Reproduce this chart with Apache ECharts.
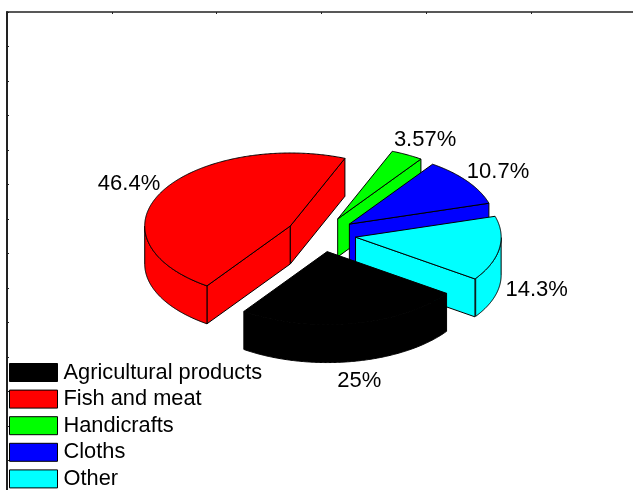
<!DOCTYPE html>
<html>
<head>
<meta charset="utf-8">
<style>html,body{margin:0;padding:0;background:#fff}#main{width:633px;height:490px}</style>
<script src="https://cdn.jsdelivr.net/npm/echarts@6/dist/echarts.min.js"></script>
</head>
<body>
<div id="main"></div>
<script>
const categories = ['Agricultural products', 'Fish and meat', 'Handicrafts', 'Cloths', 'Other'];
const shares = [25, 46.4, 3.57, 10.7, 14.3];
const colors = ['#000000', '#ff0000', '#00ff00', '#0000ff', '#00ffff'];
const paintOrder = [5, 1, 2, 3, 4];

// Pie geometry in axis units (x right, y down)
const pieCenter = [2.998, 6.445];
const radiusX = 1.39;
const radiusY = 2.116;
const thickness = 1.1;
const explode = 0.24;
const labelRadius = 1.5;
const labelDropFar = 0.04;
const labelDropNear = 1.12;
const firstSliceStart = -34.9; // degrees, slices run clockwise

const total = shares.reduce((a, b) => a + b, 0);
const rad = d => d * Math.PI / 180;

function sliceRange(index) {
  let start = firstSliceStart;
  for (let i = 0; i < index; i++) start -= shares[i] / total * 360;
  return [start, start - shares[index] / total * 360];
}

function sliceElements(index, api) {
  const [start, end] = sliceRange(index);
  const mid = (start + end) / 2;
  const ox = api.value(0) + explode * radiusX * Math.cos(rad(mid));
  const oy = api.value(1) - explode * radiusY * Math.sin(rad(mid));
  const at = (deg, r, z) => api.coord([
    ox + r * radiusX * Math.cos(rad(deg)),
    oy - r * radiusY * Math.sin(rad(deg)) + z
  ]);
  const style = { fill: colors[index], stroke: '#000', lineWidth: 1, lineJoin: 'round' };
  const poly = (points, z2) => ({
    type: 'polygon', z2, shape: { points }, style
  });
  const children = [];

  // Radial walls, drawn only when their outward side faces the viewer
  [[start, start + 90], [end, end - 90]].forEach(([edge, normal]) => {
    if (Math.sin(rad(normal)) < 0) {
      children.push(poly([at(edge, 0, 0), at(edge, 1, 0), at(edge, 1, thickness), at(edge, 0, thickness)], 1));
    }
  });

  // Rim: the near-side stretch of the arc
  const upperPts = [];
  const lowerPts = [];
  for (let d = start; d >= end - 1e-6; d -= 0.5) {
    if (Math.sin(rad(d)) <= 0) {
      upperPts.push(at(d, 1, 0));
      lowerPts.unshift(at(d, 1, thickness));
    }
  }
  if (upperPts.length > 1) children.push(poly(upperPts.concat(lowerPts), 1));

  // Top face
  const top = [at(start, 0, 0)];
  for (let d = start; d > end; d -= 0.5) top.push(at(d, 1, 0));
  top.push(at(end, 1, 0));
  children.push(poly(top, 2));

  // Percentage label: level with the top face on the far half, the base on the near half
  const labelPos = api.coord([
    api.value(0) + labelRadius * radiusX * Math.cos(rad(mid)),
    api.value(1) - labelRadius * radiusY * Math.sin(rad(mid)) + (Math.sin(rad(mid)) < 0 ? labelDropNear : labelDropFar)
  ]);
  children.push({
    type: 'text', z2: 3, x: labelPos[0], y: labelPos[1],
    style: {
      text: shares[index] + '%', fill: '#000',
      font: '22px "Liberation Sans", Arial, sans-serif',
      align: 'center', verticalAlign: 'middle'
    }
  });
  return { type: 'group', children };
}

const chart = echarts.init(document.getElementById('main'), null, { renderer: 'canvas' });
chart.setOption({
  animation: false,
  backgroundColor: '#fff',
  grid: { left: 7, top: 12, width: 628.5, height: 483, outerBoundsMode: 'none' },
  xAxis: {
    type: 'value', position: 'top', min: 0, max: 6, interval: 1,
    axisLine: { show: true, onZero: false, lineStyle: { color: '#222', width: 1.5 } },
    axisTick: { show: true, inside: true, length: 2, lineStyle: { color: '#222' } },
    axisLabel: { show: false }, splitLine: { show: false }
  },
  yAxis: {
    type: 'value', inverse: true, position: 'left', min: 0, max: 14, interval: 1,
    axisLine: { show: true, onZero: false, lineStyle: { color: '#222', width: 2 } },
    axisTick: { show: true, inside: true, length: 2, lineStyle: { color: '#222' } },
    axisLabel: { show: false }, splitLine: { show: false }
  },
  legend: {
    data: categories, orient: 'vertical', left: 9, top: 360.5, height: 200,
    icon: 'rect', itemWidth: 48, itemHeight: 18, itemGap: 2.6,
    selectedMode: false,
    padding: 0,
    textStyle: { fontFamily: '"Liberation Sans", Arial, sans-serif', fontSize: 21.8, lineHeight: 22, color: '#000', padding: [2, 0, 0, 1] },
    itemStyle: { borderColor: '#000', borderWidth: 1 }
  },
  series: categories.map((name, i) => ({
    type: 'custom', name, z: paintOrder[i],
    coordinateSystem: 'cartesian2d',
    itemStyle: { color: colors[i] },
    encode: { x: 0, y: 1 },
    data: [[pieCenter[0], pieCenter[1], shares[i]]],
    renderItem: (params, api) => sliceElements(i, api)
  }))
});
</script>
</body>
</html>
